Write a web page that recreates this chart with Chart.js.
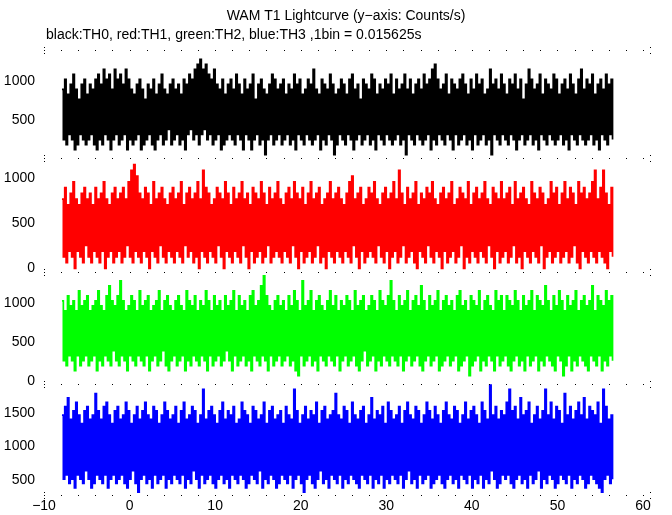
<!DOCTYPE html>
<html>
<head>
<meta charset="utf-8">
<script src="https://cdn.jsdelivr.net/npm/chart.js@4.4.1/dist/chart.umd.min.js"></script>
<style>
    html, body { margin: 0; padding: 0; background: #fff; }
    #lc { display: block; }
</style>
</head>
<body>
<canvas id="lc" width="672" height="515"></canvas>
<script>
/* WAM T1 lightcurve - 4 energy bands (TH0..TH3), stacked panels */

const TITLE = 'WAM T1 Lightcurve (y\u2212axis: Counts/s)';
const SUBTITLE = 'black:TH0, red:TH1, green:TH2, blue:TH3 ,1bin = 0.015625s';

// time columns (s): each column holds the max and min of the bins inside it
const T_START = -7.9;
const T_COL = 0.3225;

const xTicks = [-10, 0, 10, 20, 30, 40, 50, 60];

// per panel y ticks (Counts/s)
const th0Ticks = [500, 1000];
const th1Ticks = [0, 500, 1000];
const th2Ticks = [0, 500, 1000];
const th3Ticks = [500, 1000, 1500];

// TH0 (black)
const th0Hi = [
    896, 1024, 832, 960, 1088, 896, 768, 960, 1024, 832, 960, 896, 1024, 1088, 960, 1152, 1024, 1088, 896, 1152,
    1024, 1088, 960, 1152, 1024, 896, 832, 960, 1024, 896, 768, 960, 896, 1024, 832, 960, 1088, 896, 832, 960,
    1024, 896, 960, 832, 1024, 960, 1088, 1024, 1152, 1216, 1280, 1152, 1216, 1088, 1024, 1152, 960, 896, 1024, 832,
    960, 1024, 896, 1088, 960, 832, 1024, 896, 960, 1088, 768, 960, 1024, 896, 832, 960, 1088, 1024, 896, 960,
    1024, 832, 960, 896, 1088, 960, 1024, 832, 896, 1024, 960, 1152, 896, 832, 1024, 960, 896, 1088, 960, 832,
    896, 1024, 960, 832, 1024, 1088, 896, 960, 768, 1024, 960, 896, 1088, 1024, 832, 960, 896, 1024, 960, 1088,
    832, 1024, 896, 960, 1088, 896, 1024, 832, 960, 1024, 896, 1088, 960, 1024, 1152, 1216, 1024, 896, 960, 1088,
    832, 1024, 960, 896, 1024, 1088, 960, 832, 1024, 896, 1088, 960, 1024, 832, 896, 1152, 960, 1024, 896, 1088,
    960, 832, 1024, 960, 1088, 896, 1024, 768, 960, 1152, 1024, 896, 960, 1088, 832, 1024, 960, 896, 1088, 1024,
    832, 960, 1024, 896, 1088, 960, 832, 1024, 1152, 896, 1024, 960, 1088, 832, 960, 1024, 896, 1088, 960, 1024
];
const th0Lo = [
    256, 192, 320, 256, 128, 192, 320, 256, 192, 256, 320, 192, 128, 256, 192, 320, 256, 128, 256, 320,
    192, 256, 320, 128, 256, 192, 256, 320, 128, 192, 256, 320, 192, 128, 256, 320, 192, 256, 384, 192,
    256, 320, 192, 256, 128, 320, 384, 256, 320, 192, 320, 384, 256, 320, 192, 256, 320, 128, 192, 256,
    320, 256, 192, 320, 256, 128, 320, 256, 128, 256, 320, 192, 256, 64, 256, 320, 192, 256, 320, 192,
    256, 320, 192, 256, 128, 320, 256, 192, 320, 256, 192, 256, 320, 128, 256, 192, 320, 256, 64, 192,
    320, 256, 192, 320, 256, 128, 256, 320, 192, 256, 320, 192, 256, 128, 320, 256, 192, 320, 256, 192,
    256, 320, 192, 256, 64, 320, 256, 192, 320, 256, 192, 256, 320, 128, 256, 192, 320, 256, 192, 320,
    256, 128, 320, 192, 256, 320, 192, 256, 128, 320, 192, 256, 320, 192, 256, 64, 320, 256, 192, 320,
    256, 192, 320, 256, 128, 256, 320, 192, 256, 320, 192, 256, 128, 320, 256, 192, 320, 256, 192, 256,
    320, 192, 256, 128, 320, 256, 192, 320, 256, 192, 256, 320, 192, 256, 128, 320, 256, 192, 320, 256
];

// TH1 (red)
const th1Hi = [
    768, 896, 704, 832, 960, 768, 704, 832, 896, 768, 832, 704, 896, 768, 832, 960, 768, 704, 832, 896,
    768, 832, 896, 768, 960, 1088, 1152, 1024, 832, 768, 896, 832, 704, 960, 768, 832, 896, 768, 704, 832,
    896, 768, 832, 960, 704, 832, 896, 768, 832, 960, 768, 1088, 896, 832, 704, 768, 896, 832, 768, 960,
    832, 704, 896, 768, 832, 960, 768, 832, 704, 896, 832, 768, 960, 832, 704, 896, 768, 832, 960, 768,
    704, 832, 896, 768, 960, 832, 768, 896, 704, 832, 960, 768, 832, 896, 704, 768, 832, 960, 768, 832,
    896, 768, 704, 832, 960, 1024, 768, 832, 896, 704, 768, 896, 832, 960, 768, 704, 832, 896, 768, 832,
    960, 768, 1088, 832, 704, 896, 768, 832, 960, 704, 832, 768, 896, 832, 960, 768, 704, 832, 896, 768,
    832, 960, 704, 768, 896, 832, 768, 960, 704, 832, 896, 768, 832, 960, 768, 704, 896, 832, 768, 960,
    768, 832, 896, 704, 960, 768, 832, 896, 768, 704, 960, 832, 768, 896, 832, 704, 768, 960, 832, 896,
    704, 832, 960, 768, 896, 832, 704, 960, 832, 896, 768, 832, 960, 1088, 768, 896, 1088, 832, 704, 896
];
const th1Lo = [
    128, 64, 192, 128, 0, 192, 128, 64, 256, 128, 64, 192, 128, 64, 192, 0, 128, 192, 64, 128,
    192, 64, 128, 256, 128, 64, 192, 128, 64, 192, 128, 0, 192, 128, 64, 256, 128, 64, 192, 128,
    64, 192, 128, 64, 256, 128, 192, 64, 128, 0, 192, 128, 64, 192, 128, 64, 256, 128, 0, 192,
    128, 64, 192, 128, 64, 256, 128, 0, 192, 64, 128, 192, 64, 128, 256, 64, 128, 192, 128, 64,
    192, 128, 64, 256, 128, 0, 192, 64, 128, 192, 64, 128, 256, 64, 128, 0, 192, 128, 64, 192,
    128, 64, 192, 128, 64, 256, 128, 0, 192, 64, 128, 192, 128, 64, 256, 128, 64, 192, 0, 128,
    192, 64, 128, 256, 64, 128, 192, 64, 0, 192, 128, 64, 256, 128, 64, 192, 128, 0, 192, 64,
    128, 192, 64, 128, 256, 0, 128, 64, 192, 128, 64, 192, 128, 64, 256, 128, 0, 192, 64, 128,
    192, 64, 128, 256, 64, 128, 0, 192, 128, 64, 192, 128, 64, 256, 0, 128, 192, 64, 128, 192,
    64, 128, 192, 64, 128, 256, 64, 0, 192, 128, 64, 192, 128, 64, 192, 128, 64, 0, 192, 128
];

// TH2 (green)
const th2Hi = [
    1024, 896, 1088, 960, 1024, 896, 1152, 960, 1024, 1088, 896, 960, 1024, 1152, 960, 896, 1088, 1216, 1024, 960,
    1088, 1280, 1024, 896, 960, 1088, 1024, 896, 1152, 960, 1024, 1088, 896, 960, 1024, 1152, 896, 1024, 1088, 960,
    896, 1024, 1088, 960, 896, 1152, 1024, 960, 1088, 896, 1024, 960, 1152, 1024, 896, 1088, 960, 1024, 896, 1088,
    960, 1024, 1152, 896, 1088, 960, 1024, 896, 1088, 1152, 960, 1024, 1216, 1344, 1088, 960, 896, 1024, 1088, 960,
    1024, 896, 1088, 960, 1152, 1024, 896, 1280, 960, 1024, 1152, 896, 1024, 1088, 960, 896, 1024, 1152, 960, 1088,
    896, 1024, 960, 1088, 1024, 896, 1152, 960, 1024, 1088, 896, 960, 1088, 1024, 896, 1152, 1024, 960, 1088, 1280,
    1024, 896, 1088, 960, 1024, 1152, 896, 1024, 1088, 960, 1216, 1024, 896, 1088, 960, 1024, 1152, 896, 1024, 1088,
    960, 1024, 896, 1088, 1152, 960, 1024, 896, 1088, 1024, 960, 1152, 896, 1024, 1088, 960, 896, 1152, 1024, 1088,
    896, 1088, 1024, 960, 1152, 1024, 896, 1088, 960, 1024, 1152, 896, 1088, 1024, 960, 1216, 1024, 896, 1088, 960,
    1152, 1024, 896, 1088, 960, 1024, 1152, 896, 1024, 1088, 960, 1024, 1216, 896, 1088, 1024, 960, 1152, 1024, 1088
];
const th2Lo = [
    256, 192, 320, 256, 128, 320, 192, 256, 320, 192, 256, 320, 128, 256, 192, 320, 256, 192, 384, 256,
    192, 320, 256, 128, 320, 256, 192, 320, 256, 192, 320, 128, 256, 320, 192, 256, 384, 192, 128, 256,
    320, 192, 256, 320, 128, 256, 192, 320, 256, 192, 320, 256, 128, 320, 192, 256, 320, 192, 256, 384,
    256, 128, 320, 192, 256, 320, 192, 256, 128, 320, 256, 192, 320, 256, 128, 320, 192, 256, 320, 192,
    256, 320, 192, 256, 128, 64, 320, 192, 256, 320, 192, 256, 128, 320, 256, 192, 320, 256, 192, 320,
    128, 256, 320, 192, 256, 320, 192, 128, 256, 384, 192, 256, 320, 128, 256, 192, 320, 256, 192, 320,
    256, 192, 320, 128, 256, 320, 192, 256, 320, 192, 128, 256, 320, 192, 256, 320, 128, 192, 256, 320,
    192, 256, 320, 128, 192, 256, 320, 64, 192, 256, 320, 128, 256, 192, 320, 256, 128, 320, 192, 256,
    320, 192, 128, 256, 320, 192, 256, 128, 320, 192, 256, 320, 128, 256, 192, 320, 256, 192, 128, 320,
    256, 64, 192, 320, 128, 256, 192, 320, 256, 192, 128, 320, 256, 192, 320, 128, 256, 192, 320, 256
];

// TH3 (blue)
const th3Hi = [
    1472, 1600, 1728, 1408, 1536, 1664, 1472, 1344, 1536, 1600, 1408, 1472, 1792, 1536, 1408, 1600, 1664, 1472, 1344, 1536,
    1600, 1408, 1472, 1664, 1536, 1344, 1472, 1600, 1408, 1536, 1664, 1472, 1408, 1600, 1536, 1344, 1472, 1664, 1536, 1408,
    1472, 1600, 1344, 1536, 1664, 1408, 1472, 1600, 1536, 1344, 1472, 1856, 1408, 1536, 1600, 1472, 1344, 1536, 1664, 1408,
    1536, 1472, 1600, 1344, 1408, 1664, 1536, 1472, 1344, 1600, 1536, 1408, 1472, 1664, 1344, 1536, 1600, 1408, 1472, 1536,
    1344, 1600, 1472, 1408, 1856, 1536, 1344, 1472, 1600, 1408, 1536, 1472, 1664, 1344, 1536, 1600, 1408, 1472, 1536, 1792,
    1472, 1408, 1600, 1536, 1344, 1664, 1472, 1408, 1536, 1600, 1344, 1472, 1728, 1408, 1536, 1472, 1600, 1344, 1664, 1536,
    1408, 1472, 1600, 1344, 1536, 1664, 1472, 1408, 1600, 1536, 1344, 1472, 1664, 1536, 1408, 1600, 1472, 1344, 1536, 1664,
    1472, 1408, 1600, 1536, 1344, 1472, 1664, 1408, 1536, 1600, 1472, 1344, 1664, 1536, 1408, 1920, 1472, 1600, 1408, 1536,
    1472, 1664, 1856, 1536, 1600, 1408, 1728, 1472, 1536, 1664, 1344, 1472, 1600, 1408, 1536, 1856, 1472, 1664, 1408, 1600,
    1536, 1344, 1792, 1472, 1600, 1408, 1536, 1664, 1472, 1728, 1408, 1600, 1536, 1472, 1664, 1344, 1856, 1600, 1408, 1472
];
const th3Lo = [
    512, 576, 448, 512, 384, 576, 512, 448, 640, 512, 384, 448, 576, 512, 448, 576, 384, 512, 576, 448,
    512, 576, 448, 384, 512, 640, 448, 320, 512, 576, 448, 512, 384, 576, 448, 512, 576, 384, 512, 448,
    576, 512, 448, 576, 384, 512, 448, 640, 512, 384, 576, 448, 512, 576, 448, 384, 512, 576, 448, 512,
    384, 576, 512, 448, 576, 512, 384, 448, 576, 512, 448, 640, 384, 512, 448, 576, 512, 384, 448, 576,
    512, 448, 576, 384, 512, 576, 448, 320, 512, 576, 448, 384, 512, 640, 448, 512, 384, 576, 512, 448,
    576, 384, 512, 448, 576, 512, 448, 384, 576, 512, 448, 576, 384, 512, 448, 576, 384, 512, 448, 576,
    512, 448, 576, 384, 512, 640, 448, 512, 384, 576, 448, 512, 576, 384, 448, 512, 576, 448, 384, 512,
    576, 448, 512, 384, 576, 512, 448, 576, 384, 512, 448, 576, 384, 512, 448, 640, 512, 384, 448, 576,
    512, 576, 448, 384, 512, 576, 448, 512, 384, 576, 448, 512, 640, 384, 512, 448, 576, 512, 384, 448,
    576, 512, 448, 576, 384, 512, 448, 576, 512, 384, 448, 576, 512, 448, 384, 320, 512, 576, 448, 512
];

const FONT = { family: '"Liberation Sans", Arial, Helvetica, sans-serif', size: 14 };

// column start times on the time axis
const times = th0Hi.map((_, i) => +(T_START + i * T_COL).toFixed(4));

// histogram trace through each column: its max, then its min
function trace(lo, hi) {
    const pts = [];
    hi.forEach((h, i) => {
        pts.push({ x: times[i], y: h });
        pts.push({ x: +(times[i] + T_COL / 2).toFixed(4), y: lo[i] });
    });
    return pts;
}

function curve(label, lo, hi, color, axis) {
    return {
        label: label,
        data: trace(lo, hi),
        yAxisID: axis,
        borderColor: color,
        backgroundColor: color,
        borderWidth: 1.7,
        stepped: true,
        pointRadius: 0,
        fill: false
    };
}

// one y axis per panel, stacked on the left
function panelAxis(min, max, ticks, weight, stackWeight) {
    return {
        type: 'linear',
        position: 'left',
        stack: 'wam',
        stackWeight: stackWeight,
        weight: weight,
        min: min,
        max: max,
        grid: { display: false, drawTicks: false },
        border: { display: false },
        ticks: { color: '#000', font: FONT, padding: 9, callback: (v) => String(v) },
        afterBuildTicks: (scale) => { scale.ticks = ticks.map(v => ({ value: v })); },
        afterFit: (scale) => { scale.width = 44; }
    };
}

// title lines + the little frame dots of the original plot
const frameText = {
    id: 'frameText',
    afterDraw: (chart) => {
        const { ctx, chartArea, scales } = chart;
        ctx.save();
        ctx.fillStyle = '#000';
        ctx.font = '14px "Liberation Sans", Arial, sans-serif';
        ctx.textBaseline = 'middle';
        ctx.textAlign = 'center';
        ctx.fillText(TITLE, 346, 16);
        ctx.textAlign = 'left';
        ctx.fillText(SUBTITLE, 46, 35);

        const rows = [scales.y0.top, scales.y1.top, scales.y2.top, scales.y3.top, scales.y3.bottom];
        rows.forEach(y => {
            const yy = Math.round(y);
            for (let v = -10; v <= 60; v += 2) {
                const px = Math.round(scales.x.getPixelForValue(v));
                ctx.fillRect(px, yy, 1, 1);
            }
            ctx.fillRect(Math.round(chartArea.left), yy - 3, 1, 1);
            ctx.fillRect(Math.round(chartArea.left), yy + 3, 1, 1);
            ctx.fillRect(Math.round(chartArea.right) + 7, yy - 3, 1, 1);
            ctx.fillRect(Math.round(chartArea.right) + 7, yy + 3, 1, 1);
        });
        ctx.restore();
    }
};

new Chart(document.getElementById('lc').getContext('2d'), {
    type: 'line',
    data: {
        datasets: [
            curve('TH0', th0Lo, th0Hi, '#000000', 'y0'),
            curve('TH1', th1Lo, th1Hi, '#ff0000', 'y1'),
            curve('TH2', th2Lo, th2Hi, '#00ff00', 'y2'),
            curve('TH3', th3Lo, th3Hi, '#0000ff', 'y3')
        ]
    },
    options: {
        responsive: false,
        animation: false,
        layout: { padding: { top: 50, right: 29, left: 0, bottom: 0 } },
        plugins: {
            legend: { display: false },
            tooltip: { enabled: false }
        },
        scales: {
            x: {
                type: 'linear',
                position: 'bottom',
                min: -10,
                max: 60,
                grid: { display: false, drawTicks: false },
                border: { display: false },
                ticks: {
                    color: '#000',
                    font: FONT,
                    padding: 3,
                    maxRotation: 0,
                    callback: (v) => String(v).replace('-', '\u2212')
                },
                afterBuildTicks: (scale) => { scale.ticks = xTicks.map(v => ({ value: v })); },
                afterFit: (scale) => { scale.height = 20; }
            },
            y0: panelAxis(20, 1400, th0Ticks, 4, 108),
            y1: panelAxis(-40, 1225, th1Ticks, 3, 114),
            y2: panelAxis(-42, 1394, th2Ticks, 2, 112),
            y3: panelAxis(276, 1937, th3Ticks, 1, 111)
        }
    },
    plugins: [frameText]
});
</script>
</body>
</html>
